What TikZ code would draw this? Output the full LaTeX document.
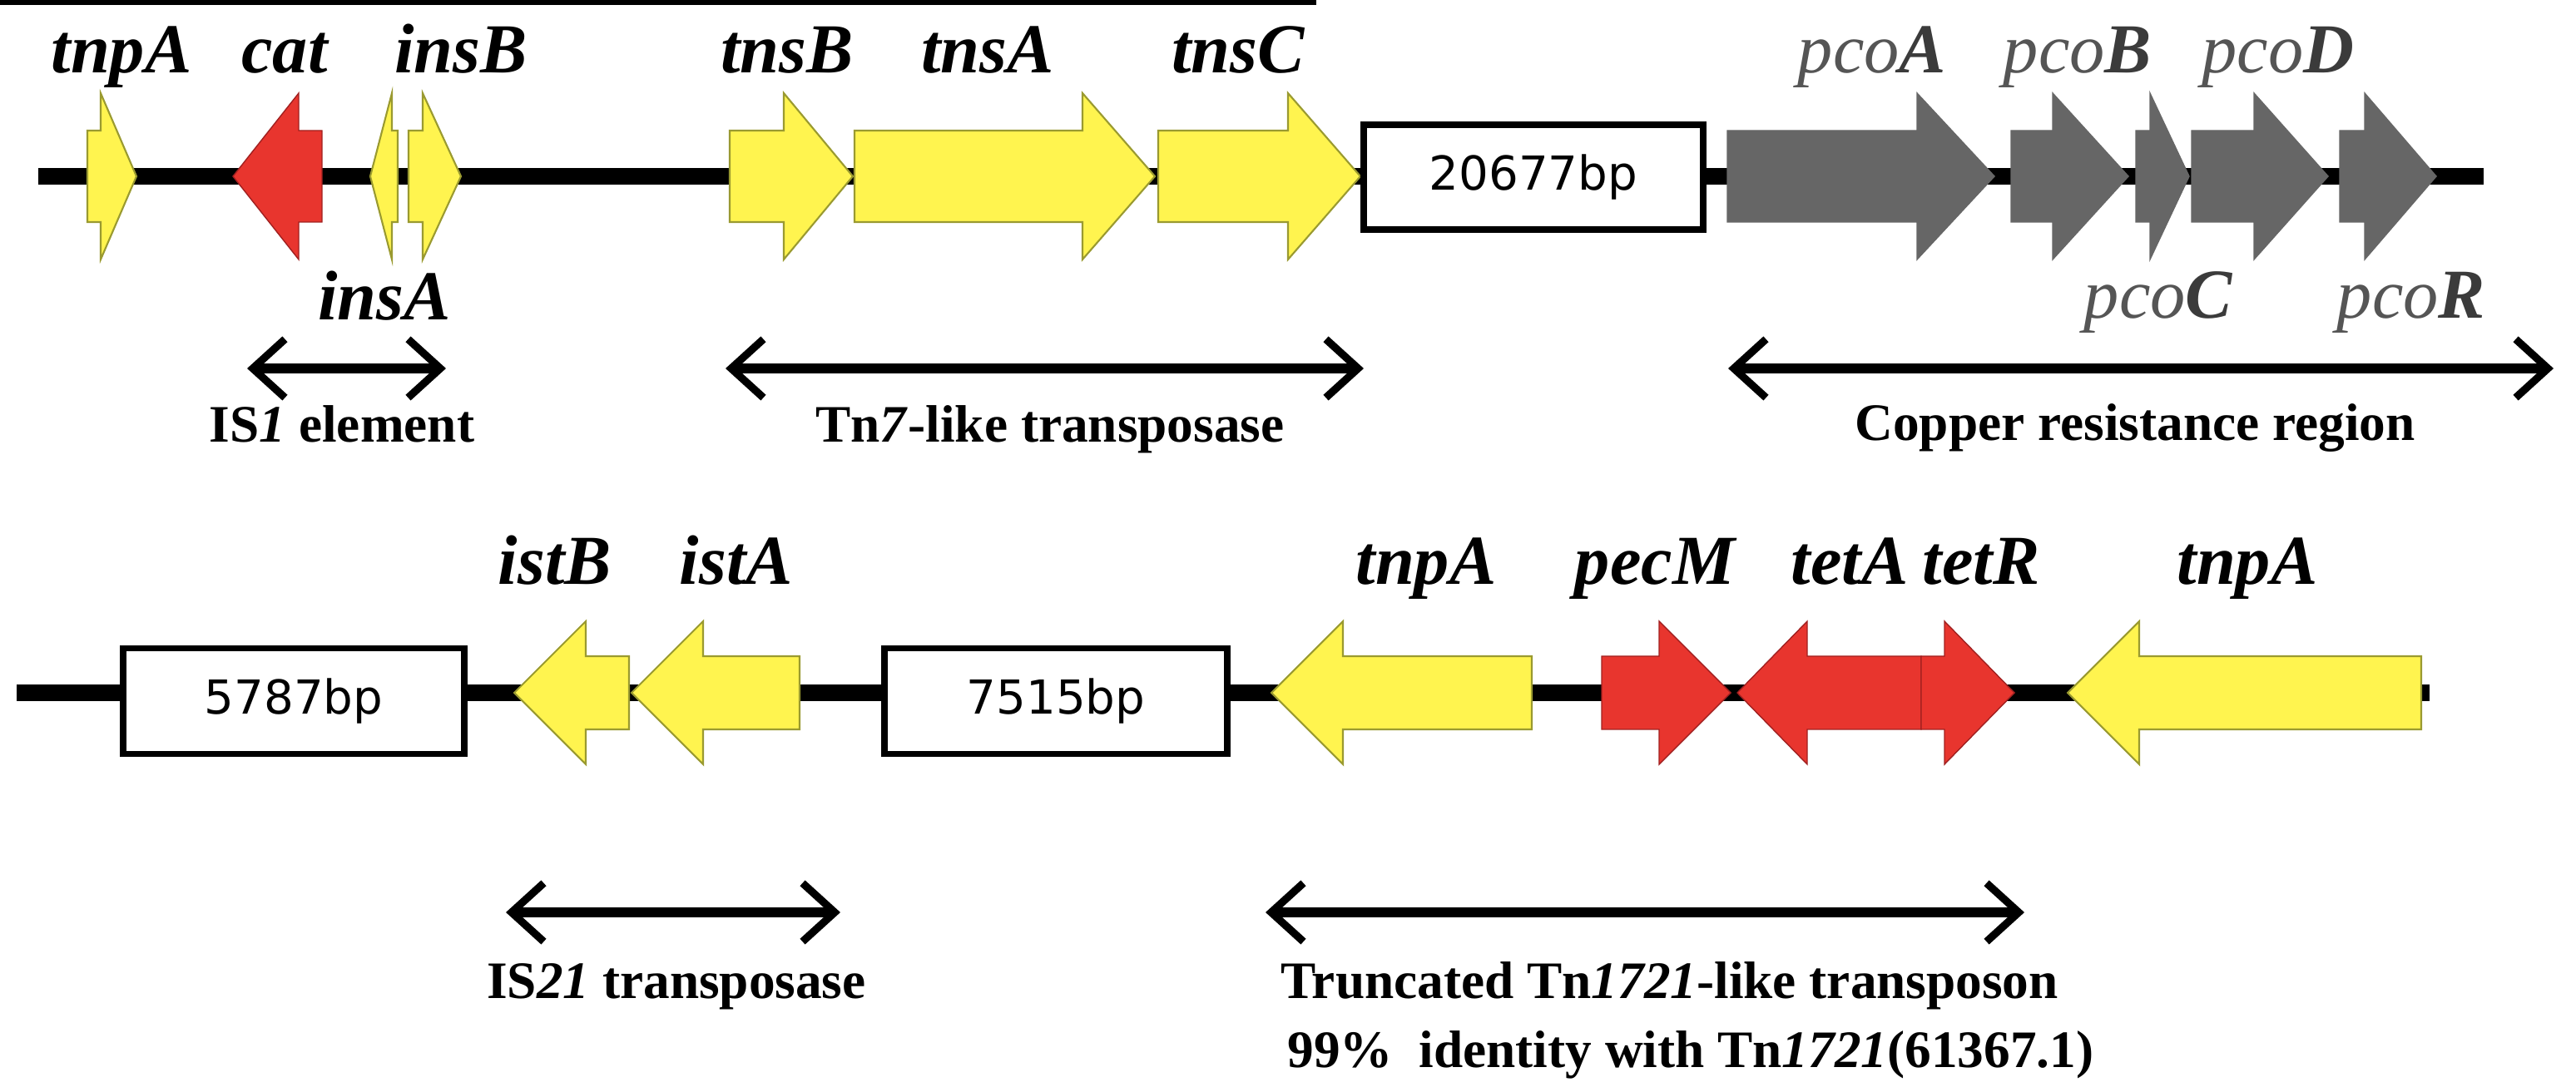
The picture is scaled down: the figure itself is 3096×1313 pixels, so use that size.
\documentclass[tikz,border=0pt]{standalone}
\usepackage{fontspec}
\setmainfont{Liberation Serif}
\newfontfamily\boxfont{DejaVu Sans}
\usetikzlibrary{arrows.meta}
\definecolor{gy}{HTML}{FFF44F}
\definecolor{gyd}{HTML}{9A9A30}
\definecolor{gr}{HTML}{E8352E}
\definecolor{grd}{HTML}{A02020}
\definecolor{gg}{HTML}{666666}
\definecolor{pcog}{HTML}{555555}
\newcommand\gR[7]{\filldraw[#7] ({#1},{#4-#5})--({#2},{#4-#5})--({#2},{#4-#6})--({#3},{#4})--({#2},{#4+#6})--({#2},{#4+#5})--({#1},{#4+#5})--cycle;}
\newcommand\gL[7]{\filldraw[#7] ({#3},{#4-#5})--({#2},{#4-#5})--({#2},{#4-#6})--({#1},{#4})--({#2},{#4+#6})--({#2},{#4+#5})--({#3},{#4+#5})--cycle;}
\newcommand\pco[1]{\textcolor{pcog}{\mdseries pco}\textcolor{pcog!70!black}{#1}}
\begin{document}
\begin{tikzpicture}[x=0.01cm,y=-0.01cm,
  yel/.style={fill=gy,draw=gyd,line width=0.6pt},
  red/.style={fill=gr,draw=grd,line width=0.4pt},
  gry/.style={fill=gg,draw=gg,line width=0.4pt},
  dna/.style={line width=5.7pt},
  bp/.style={draw,fill=white,line width=2.2pt,inner sep=0pt,font=\boxfont\fontsize{16}{18}\selectfont},
  gene/.style={anchor=base,font=\fontsize{24}{28}\selectfont\bfseries\itshape},
  reg/.style={anchor=base,font=\fontsize{18}{21}\selectfont\bfseries},
  span/.style={{Straight Barb[length=11pt,width=20pt,line width=2.6pt]}-{Straight Barb[length=11pt,width=20pt,line width=2.6pt]},line width=3.2pt}]
\useasboundingbox (0,0) rectangle (3096,1313);
% ---------- row 1 ----------
\coordinate (l1a) at (46,212); \coordinate (l1b) at (2985,212);
\draw[dna] (l1a) -- (l1b);
\gR{105}{121}{164}{212}{55}{100}{yel}
\gL{280}{359}{387}{212}{55}{100}{red}
\gL{445}{471}{478}{212}{55}{100}{yel}
\gR{491}{508}{554}{212}{55}{100}{yel}
\gR{877}{942}{1025}{212}{55}{100}{yel}
\gR{1027}{1301}{1388}{212}{55}{100}{yel}
\gR{1392}{1548}{1635}{212}{55}{100}{yel}
\node[bp,minimum width=408\pgflinewidth,text width=0pt] at (0,0) {};
\node[bp,minimum width=11.4cm/2.8,minimum height=1.26cm,anchor=center] (b1) at (1843,213) {20677bp};
\gR{2076}{2304}{2397}{212}{55}{100}{gry}
\gR{2417}{2467}{2558}{212}{55}{100}{gry}
\gR{2567}{2584}{2631}{212}{55}{100}{gry}
\gR{2634}{2709}{2798}{212}{55}{100}{gry}
\gR{2812}{2842}{2928}{212}{55}{100}{gry}
\node[gene] (t1) at (146,88) {tnpA};
\node[gene] (t2) at (342,88) {cat};
\node[gene] (t3) at (554,88) {insB};
\node[gene] (t4) at (946,88) {tnsB};
\node[gene] (t5) at (1187,88) {tnsA};
\node[gene] (t6) at (1488,88) {tnsC};
\node[gene] (t7) at (2250,88) {\pco{A}};
\node[gene] (t8) at (2497,88) {\pco{B}};
\node[gene] (t9) at (2738,88) {\pco{D}};
\node[gene] (t10) at (462,385) {insA};
\node[gene] (t11) at (2594,383) {\pco{C}};
\node[gene] (t12) at (2898,383) {\pco{R}};
\coordinate (s1a) at (297,443); \coordinate (s1b) at (536,443);
\coordinate (s2a) at (872,443); \coordinate (s2b) at (1639,443);
\coordinate (s3a) at (2077,443); \coordinate (s3b) at (3069,443);
\draw[span] (s1a) -- (s1b);
\draw[span] (s2a) -- (s2b);
\draw[span] (s3a) -- (s3b);
\node[reg] (r1) at (411,532) {IS\textit{1} element};
\node[reg] (r2) at (1262,532) {Tn\textit{7}-like transposase};
\node[reg] (r3) at (2566,530) {Copper resistance region};
% ---------- row 2 ----------
\coordinate (l2a) at (20,833); \coordinate (l2b) at (2920,833);
\draw[dna] (l2a) -- (l2b);
\node[bp,minimum width=4.1cm,minimum height=1.27cm] (b2) at (353,843) {5787bp};
\node[bp,minimum width=4.12cm,minimum height=1.27cm] (b3) at (1269,843) {7515bp};
\gL{618}{704}{756}{833}{44}{86}{yel}
\gL{759}{845}{961}{833}{44}{86}{yel}
\gL{1528}{1614}{1841}{833}{44}{86}{yel}
\gR{1925}{1994}{2080}{833}{44}{86}{red}
\gL{2088}{2172}{2309}{833}{44}{86}{red}
\gR{2309}{2337}{2421}{833}{44}{86}{red}
\gL{2485}{2571}{2910}{833}{44}{86}{yel}
\node[gene] (u1) at (667,703) {istB};
\node[gene] (u2) at (885,703) {istA};
\node[gene] (u3) at (1714,703) {tnpA};
\node[gene] (u4) at (1989,703) {pecM};
\node[gene] (u5) at (2223,703) {tetA};
\node[gene] (u6) at (2381,703) {tetR};
\node[gene] (u7) at (2701,703) {tnpA};
\coordinate (s4a) at (608,1097); \coordinate (s4b) at (1010,1097);
\coordinate (s5a) at (1521,1097); \coordinate (s5b) at (2433,1097);
\draw[span] (s4a) -- (s4b);
\draw[span] (s5a) -- (s5b);
\node[reg] (r4) at (813,1200) {IS\textit{21} transposase};
\node[reg,anchor=base west] (r5) at (1527,1200) {Truncated Tn\textit{1721}-like transposon};
\node[reg,anchor=base west] (r6) at (1535,1283) {99\%\ \ identity with Tn\textit{1721}(61367.1)};
\end{tikzpicture}
\end{document}
